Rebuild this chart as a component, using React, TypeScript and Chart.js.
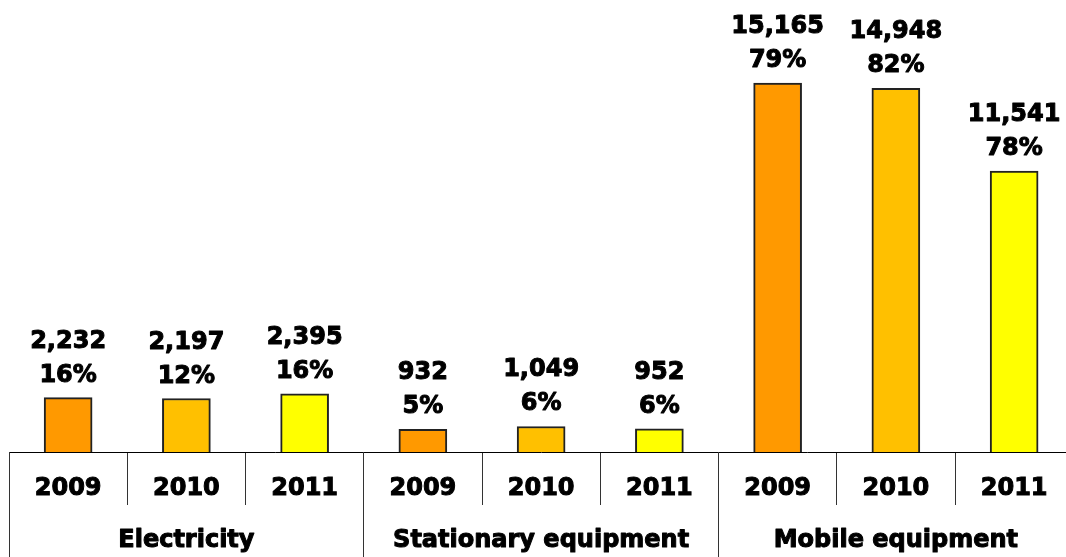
import { useEffect, useRef } from "react";
import { Chart, registerables } from "chart.js";

Chart.register(...registerables);

const years = ["2009", "2010", "2011", "2009", "2010", "2011", "2009", "2010", "2011"];
const groups = ["Electricity", "Stationary equipment", "Mobile equipment"];
const values = [2232, 2197, 2395, 932, 1049, 952, 15165, 14948, 11541];
const shares = [16, 12, 16, 5, 6, 6, 79, 82, 78];
const yearColors = ["#FF9900", "#FFC000", "#FFFF00"];
const yMax = 18576;

const FONT = '"DejaVu Sans", Verdana, sans-serif';
const STROKE = 1;

function boldText(ctx: any, text: string, x: number, y: number) {
  ctx.strokeText(text, x, y);
  ctx.fillText(text, x, y);
}

const overlay = {
  id: "overlay",
  afterDatasetsDraw(chart: any) {
    const ctx = chart.ctx;
    const meta = chart.getDatasetMeta(0);
    ctx.save();
    ctx.font = `bold 24px ${FONT}`;
    ctx.fillStyle = "#000";
    ctx.strokeStyle = "#000";
    ctx.lineWidth = STROKE;
    ctx.lineJoin = "round";
    ctx.textAlign = "center";
    ctx.textBaseline = "alphabetic";
    meta.data.forEach((bar: any, i: number) => {
      const x = bar.x;
      const y = bar.y;
      boldText(ctx, values[i].toLocaleString("en-US"), x, y - 16 - 34);
      boldText(ctx, shares[i] + "%", x, y - 16);
    });
    ctx.restore();
  },
  afterDraw(chart: any) {
    const ctx = chart.ctx;
    const xs = chart.scales.x;
    const bottom = chart.chartArea.bottom;
    const half = (xs.getPixelForValue(1) - xs.getPixelForValue(0)) / 2;
    ctx.save();
    ctx.strokeStyle = "#333";
    ctx.lineWidth = 1;
    for (let g = 0; g <= groups.length; g++) {
      const x = Math.round(xs.getPixelForValue(g * 3) - half - 0.5) + 0.5;
      ctx.beginPath();
      ctx.moveTo(x, bottom);
      ctx.lineTo(x, chart.height);
      ctx.stroke();
    }
    ctx.font = `bold 24px ${FONT}`;
    ctx.fillStyle = "#000";
    ctx.strokeStyle = "#000";
    ctx.lineWidth = STROKE;
    ctx.lineJoin = "round";
    ctx.textAlign = "center";
    ctx.textBaseline = "alphabetic";
    groups.forEach((name, g) => {
      boldText(ctx, name, xs.getPixelForValue(g * 3 + 1), 547);
    });
    ctx.restore();
  },
};

export default function App() {
  const ref = useRef<HTMLCanvasElement>(null);
  useEffect(() => {
    if (!ref.current) return;
    const chart = new Chart(ref.current, {
      type: "bar",
      data: {
        labels: years,
        datasets: [
          {
            data: values,
            backgroundColor: values.map((_, i) => yearColors[i % 3]),
            borderColor: "#222",
            borderWidth: 2,
            barThickness: 48,
          },
        ],
      },
      options: {
        animation: false,
        responsive: false,
        devicePixelRatio: 1,
        layout: { padding: { left: 9, right: 1.75, top: 0, bottom: 0 } },
        plugins: { legend: { display: false }, tooltip: { enabled: false } },
        scales: {
          x: {
            type: "category",
            offset: true,
            grid: {
              offset: true,
              drawOnChartArea: false,
              drawTicks: true,
              tickLength: 53,
              color: "#333",
              lineWidth: 1,
            },
            border: { display: true, color: "#000", width: 1 },
            ticks: {
              color: "#000",
              textStrokeColor: "#000",
              textStrokeWidth: STROKE,
              padding: -31,
              font: { family: FONT, weight: "bold", size: 24 },
              maxRotation: 0,
              autoSkip: false,
            },
            afterFit: (scale: any) => {
              scale.height = 105;
            },
          },
          y: { display: false, min: 0, max: yMax },
        },
      },
      plugins: [overlay],
    });
    return () => chart.destroy();
  }, []);
  return (
    <div style={{ position: "fixed", left: 0, top: 0, width: 1066, height: 557, overflow: "hidden", background: "#fff" }}>
      <canvas ref={ref} width={1075} height={557} style={{ display: "block", width: 1075, height: 557 }} />
    </div>
  );
}
